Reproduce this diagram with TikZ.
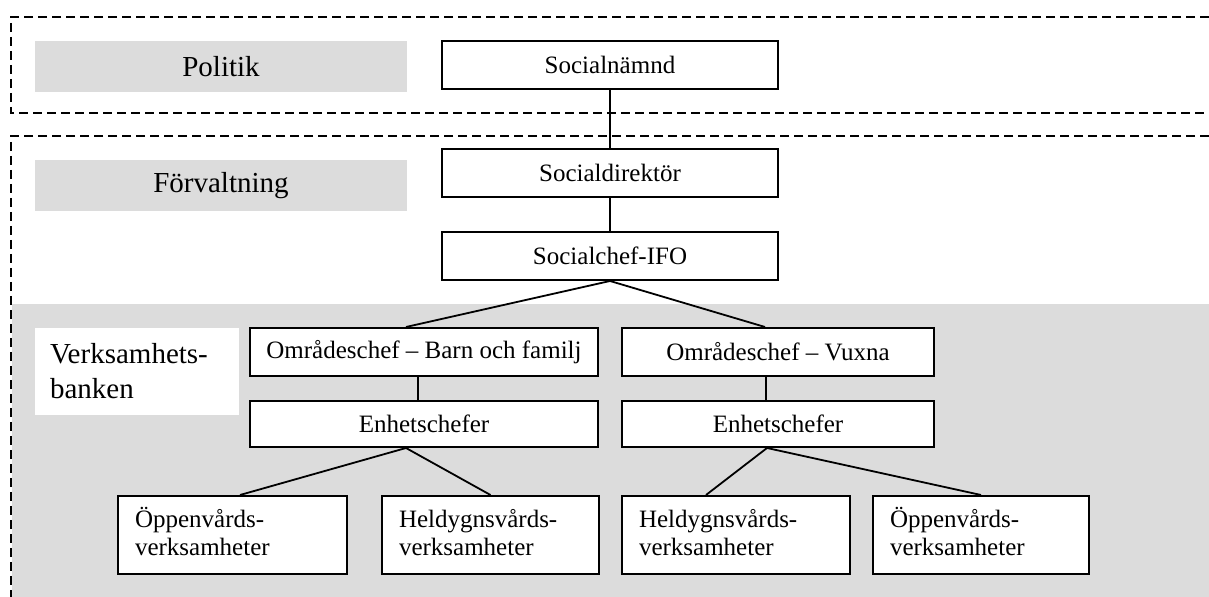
\documentclass[tikz,border=0pt]{standalone}
\usepackage{fontspec}
\setmainfont{Liberation Serif}
\definecolor{bandgrey}{RGB}{220,220,220}
\newcommand{\topstrut}{\rule{0pt}{11.5pt}}
\newcommand{\botstrut}{\rule[-4.5pt]{0pt}{4.5pt}}
\begin{document}
\begin{tikzpicture}[x=0.5pt,y=-0.5pt,
  orgbox/.style={draw, line width=1pt, fill=white, inner sep=0pt,
    minimum height=24pt, font=\fontsize{12.5}{14}\selectfont},
  leafbox/.style={draw, line width=1pt, fill=white, inner xsep=8.5pt, inner ysep=0pt,
    minimum height=39pt, align=left, font=\fontsize{12.5}{14}\selectfont},
  tierlabel/.style={fill=bandgrey, inner sep=0pt, minimum width=186pt, minimum height=25.5pt,
    font=\fontsize{14.5}{17.5}\selectfont},
  dashline/.style={line width=1pt, dash pattern=on 4.5pt off 2.5pt},
  link/.style={line width=0.9pt}]
\useasboundingbox (0,0) rectangle (1209,597);
% grey band
\fill[bandgrey] (12,304) rectangle (1209,597);
% dashed regions
\draw[dashline] (1209,17) -- (11,17) -- (11,113) -- (1209,113);
\draw[dashline] (1209,136) -- (11,136) -- (11,597);
% tier labels
\node[tierlabel] (politik) at (221,66.5) {Politik};
\node[tierlabel] (forv) at (221,185.5) {Förvaltning};
\node[fill=white, inner xsep=7.5pt, inner ysep=0pt, text width=87pt, minimum height=43.5pt,
  align=left, font=\fontsize{14.5}{17.5}\selectfont] (verk) at (137,371.5) {Verksamhets-\\banken};
% boxes
\node[orgbox, minimum width=168pt] (nmd) at (610,65) {Socialnämnd};
\node[orgbox, minimum width=168pt] (dir) at (610,173) {Socialdirektör};
\node[orgbox, minimum width=168pt] (ifo) at (610,256) {Socialchef-IFO};
\node[orgbox, minimum width=174pt] (ob) at (424,352) {Områdeschef -- Barn och familj};
\node[orgbox, minimum width=174pt, minimum height=23pt] (eb) at (424,424) {Enhetschefer};
\node[orgbox, minimum width=156pt] (ov) at (778,352) {Områdeschef -- Vuxna};
\node[orgbox, minimum width=156pt, minimum height=23pt] (ev) at (778,424) {Enhetschefer};
\node[leafbox, text width=97.5pt] (p1) at (232.5,535) {\topstrut Öppenvårds-\\verksamheter\botstrut};
\node[leafbox, text width=91.5pt] (h1) at (490.5,535) {\topstrut Heldygnsvårds-\\verksamheter\botstrut};
\node[leafbox, text width=97pt] (h2) at (736,535) {\topstrut Heldygnsvårds-\\verksamheter\botstrut};
\node[leafbox, text width=91pt] (p2) at (981,535) {\topstrut Öppenvårds-\\verksamheter\botstrut};
% connectors
\draw[link] (nmd.south) -- (dir.north);
\draw[link] (dir.south) -- (ifo.north);
\draw[link] (ifo.south) -- ([xshift=-9pt]ob.north);
\draw[link] (ifo.south) -- ([xshift=-6.5pt]ov.north);
\draw[link] ([xshift=-3pt]ob.south) -- ([xshift=-3pt]eb.north);
\draw[link] ([xshift=-6pt]ov.south) -- ([xshift=-6pt]ev.north);
\draw[link] ([xshift=-9pt]eb.south) -- ([xshift=3.75pt]p1.north);
\draw[link] ([xshift=-9pt]eb.south) -- (h1.north);
\draw[link] ([xshift=-5.5pt]ev.south) -- ([xshift=-15pt]h2.north);
\draw[link] ([xshift=-5.5pt]ev.south) -- (p2.north);
\end{tikzpicture}
\end{document}
